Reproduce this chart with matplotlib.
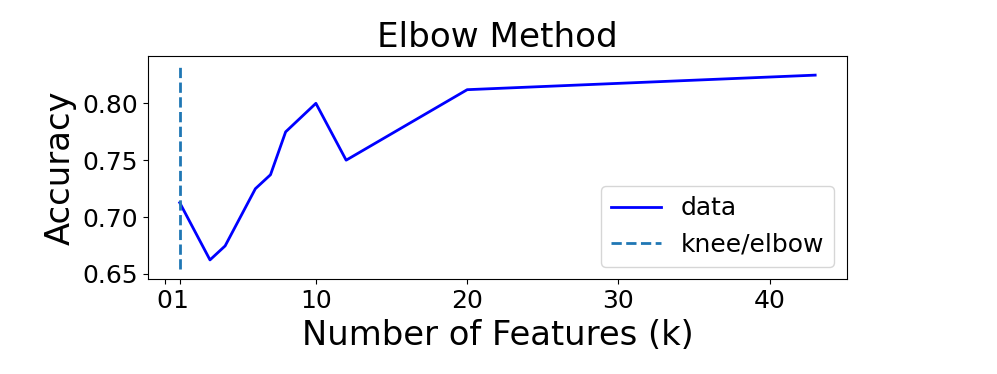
import matplotlib
matplotlib.use("Agg")
import matplotlib.pyplot as plt

k_values = [1, 3, 4, 6, 7, 8, 10, 12, 20, 43]
accuracy = [0.7126, 0.6623, 0.6746, 0.7249, 0.7372, 0.7749, 0.800, 0.750, 0.812, 0.8248]
knee = 1
xticks = [0, 1, 10, 20, 30, 40]

fig = plt.figure(figsize=(9.97, 3.74), dpi=100)
ax = fig.add_axes([0.1484, 0.2532, 0.7011, 0.5978])
ax.plot(k_values, accuracy, "b", linewidth=2, label="data")
ymin, ymax = ax.get_ylim()
ax.vlines(knee, ymin, ymax, linestyles="--", label="knee/elbow", linewidth=2)
ax.set_xticks(xticks)
ax.set_yticks([0.65, 0.70, 0.75, 0.80])
ax.tick_params(labelsize=18)
ax.set_title("Elbow Method", fontsize=24.6)
ax.set_xlabel("Number of Features (k)", fontsize=24.3)
ax.set_ylabel("Accuracy", fontsize=24.3)
ax.legend(loc="lower right", fontsize=18)
fig.savefig("out.png", dpi=100)
